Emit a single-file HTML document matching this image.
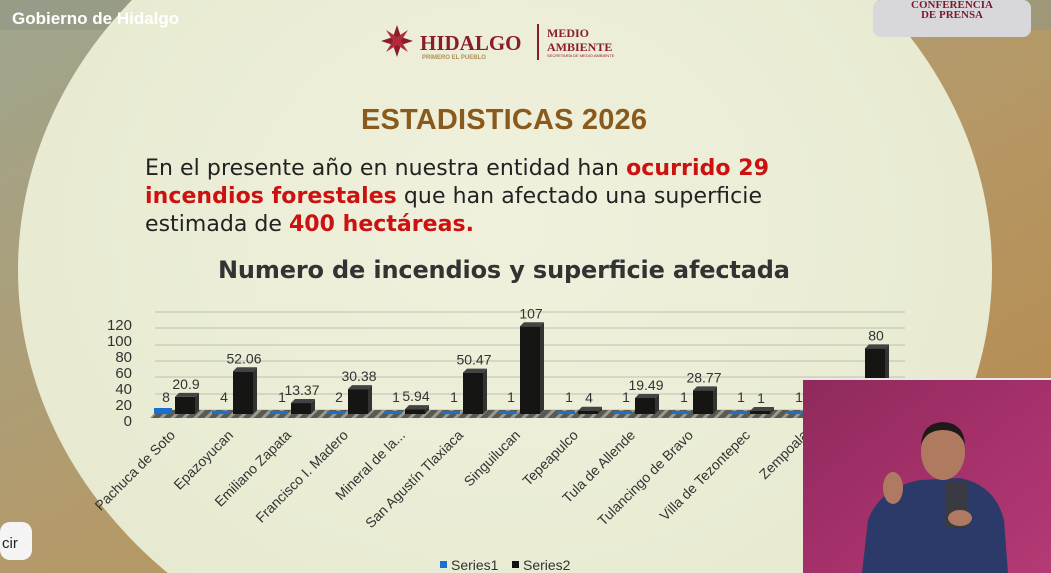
<!DOCTYPE html>
<html><head><meta charset="utf-8"><style>
html,body{margin:0;padding:0;width:1051px;height:573px;overflow:hidden;}
body{background:#a9a88a;font-family:"Liberation Sans",sans-serif;}
</style></head><body>
<svg width="1051" height="573" viewBox="0 0 1051 573" xmlns="http://www.w3.org/2000/svg" style="position:absolute;left:0;top:0;overflow:hidden">
<defs>
<linearGradient id="bg" x1="0" y1="0" x2="1" y2="1">
<stop offset="0" stop-color="#9fa58e"/><stop offset="0.5" stop-color="#b49a6a"/><stop offset="1" stop-color="#b8884a"/>
</linearGradient>
<radialGradient id="circ" cx="0.5" cy="0.45" r="0.6">
<stop offset="0" stop-color="#f0f1dd"/><stop offset="1" stop-color="#e6e9cf"/>
</radialGradient>
<linearGradient id="vid" x1="0" y1="0" x2="1" y2="1">
<stop offset="0" stop-color="#8e2a5c"/><stop offset="0.5" stop-color="#a4306a"/><stop offset="1" stop-color="#b43a74"/>
</linearGradient>
<pattern id="hatch" width="8" height="8" patternUnits="userSpaceOnUse" patternTransform="rotate(45)">
<rect width="8" height="8" fill="#5a5a52"/><rect width="3" height="8" fill="#9a9a90"/>
</pattern>
</defs>
<rect width="1051" height="573" fill="url(#bg)"/>
<rect x="0" y="0" width="1051" height="30" fill="#8f9883" opacity="0.6"/>
<ellipse cx="505" cy="270" rx="487" ry="420" fill="url(#circ)"/>
<rect x="873" y="0" width="158" height="37" rx="8" fill="#d8d8dc"/>
<text x="952" y="8" font-size="11" font-weight="bold" fill="#7a1a2a" text-anchor="middle" font-family="Liberation Serif,serif">CONFERENCIA</text>
<text x="952" y="18" font-size="11" font-weight="bold" fill="#7a1a2a" text-anchor="middle" font-family="Liberation Serif,serif">DE PRENSA</text>
<text x="12" y="24" font-size="17" font-weight="bold" fill="#ffffff">Gobierno de Hidalgo</text>
<g transform="translate(397,41)" fill="#8a1c2e">
<polygon points="0,-16 4,-4 16,0 4,4 0,16 -4,4 -16,0 -4,-4"/>
<polygon points="-11,-11 0,-4 11,-11 4,0 11,11 0,4 -11,11 -4,0" fill="#b02a3a"/>
</g>
<text x="420" y="50" font-size="21" font-weight="bold" fill="#8a1c2e" font-family="Liberation Serif,serif">HIDALGO</text>
<text x="422" y="59" font-size="6" font-weight="bold" fill="#b0905a">PRIMERO EL PUEBLO</text>
<rect x="537" y="24" width="2" height="36" fill="#8a1c2e"/>
<text x="547" y="37" font-size="12" font-weight="bold" fill="#8a1c2e" font-family="Liberation Serif,serif">MEDIO</text>
<text x="547" y="51" font-size="12" font-weight="bold" fill="#8a1c2e" font-family="Liberation Serif,serif">AMBIENTE</text>
<text x="547" y="57" font-size="4" fill="#8a1c2e">SECRETARÍA DE MEDIO AMBIENTE</text>
<text x="504" y="129" font-size="29" font-weight="bold" fill="#8a5a1c" text-anchor="middle" textLength="286">ESTADISTICAS 2026</text>
<g font-family="DejaVu Sans,sans-serif" font-size="22" fill="#222">
<text x="145" y="175" textLength="624">En el presente año en nuestra entidad han <tspan fill="#cc1111" font-weight="bold">ocurrido 29</tspan></text>
<text x="145" y="203" textLength="617"><tspan fill="#cc1111" font-weight="bold">incendios forestales</tspan> que han afectado una superficie</text>
<text x="145" y="231" textLength="329">estimada de <tspan fill="#cc1111" font-weight="bold">400 hectáreas.</tspan></text>
</g>
<text x="504" y="278" font-size="24" font-weight="bold" fill="#333" text-anchor="middle" font-family="DejaVu Sans,sans-serif" textLength="572">Numero de incendios y superficie afectada</text>
<g stroke="#c8c9b8" stroke-width="1.2">
<line x1="155" y1="410" x2="905" y2="410"/><line x1="155" y1="394" x2="905" y2="394"/>
<line x1="155" y1="377" x2="905" y2="377"/><line x1="155" y1="361" x2="905" y2="361"/>
<line x1="155" y1="345" x2="905" y2="345"/><line x1="155" y1="328" x2="905" y2="328"/>
<line x1="155" y1="312" x2="905" y2="312"/>
</g>
<g font-size="15" fill="#333" text-anchor="end">
<text x="132" y="426">0</text><text x="132" y="410">20</text><text x="132" y="394">40</text>
<text x="132" y="378">60</text><text x="132" y="362">80</text><text x="132" y="346">100</text><text x="132" y="330">120</text>
</g>
<polygon points="150,418 905,418 912,410 157,410" fill="url(#hatch)"/>
<g id="bars" font-size="14" fill="#333" text-anchor="middle"></g>
<rect x="440" y="561" width="7" height="7" fill="#1a70d0"/><text x="451" y="570" font-size="14" fill="#333">Series1</text>
<rect x="512" y="561" width="7" height="7" fill="#111"/><text x="523" y="570" font-size="14" fill="#333">Series2</text>
<rect x="803" y="378" width="248" height="195" fill="url(#vid)"/>
<rect x="803" y="378" width="248" height="2" fill="#e8e8e8"/>
<path d="M862,573 L868,520 Q880,488 920,480 L960,478 Q995,485 1004,520 L1008,573 Z" fill="#2c3a6a"/>
<rect x="945" y="482" width="22" height="45" fill="#3a3a42"/>
<ellipse cx="943" cy="452" rx="22" ry="28" fill="#b07a60"/>
<path d="M921,445 Q922,423 943,422 Q964,423 965,445 Q960,430 943,430 Q926,430 921,445Z" fill="#1e1a1a"/>
<ellipse cx="893" cy="488" rx="10" ry="16" fill="#b07a62"/>
<ellipse cx="960" cy="518" rx="12" ry="8" fill="#b07a62"/>
<rect x="0" y="522" width="32" height="38" rx="10" fill="#f4f4f4"/>
<text x="2" y="548" font-size="15" fill="#222">cir</text>
</svg>
<script>
var d=[["Pachuca de Soto",8,20.9,186],["Epazoyucan",4,52.06,244],["Emiliano Zapata",1,13.37,302],["Francisco I. Madero",2,30.38,359],["Mineral de la...",1,5.94,416],["San Agustín Tlaxiaca",1,50.47,474],["Singuilucan",1,107,531],["Tepeapulco",1,4,589],["Tula de Allende",1,19.49,646],["Tulancingo de Bravo",1,28.77,704],["Villa de Tezontepec",1,1,761],["Zempoala",1,"",819],["",null,80,876]];
var g=document.getElementById('bars'),s='';
d.forEach(function(r){var x=r[3],b=414;
 if(r[1]!==null){var h=Math.min(Math.max(r[1]*0.82,3),6);s+='<rect x="'+(x-32)+'" y="'+(b-h)+'" width="18" height="'+h+'" fill="#1a70d0"/>';
 s+='<text x="'+(x-20)+'" y="'+(b-12)+'">'+r[1]+'</text>';}
 if(r[2]!==""){var v=r[2],h2=Math.max(v*0.82,3);
 s+='<rect x="'+(x-11)+'" y="'+(b-h2)+'" width="20" height="'+h2+'" fill="#151513"/><polygon points="'+(x+9)+','+(b-h2)+' '+(x+13)+','+(b-h2-4)+' '+(x+13)+','+(b-4)+' '+(x+9)+','+b+'" fill="#333"/><polygon points="'+(x-11)+','+(b-h2)+' '+(x-7)+','+(b-h2-4)+' '+(x+13)+','+(b-h2-4)+' '+(x+9)+','+(b-h2)+'" fill="#444"/>';
 s+='<text x="'+x+'" y="'+(b-h2-8)+'">'+v+'</text>';}
 if(r[0])s+='<text x="'+(x-10)+'" y="436" text-anchor="end" transform="rotate(-45 '+(x-10)+' 436)">'+r[0]+'</text>';
});
g.innerHTML=s;
</script>
</body></html>
